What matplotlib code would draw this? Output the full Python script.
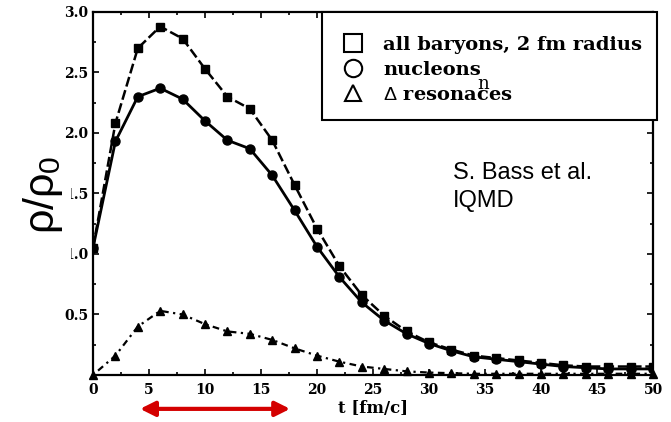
import numpy as np
import matplotlib
matplotlib.use('Agg')
import matplotlib.pyplot as plt
from matplotlib.lines import Line2D
from matplotlib.patches import Rectangle

plt.rcParams['mathtext.fontset'] = 'custom'
plt.rcParams['mathtext.rm'] = 'Liberation Sans'
plt.rcParams['mathtext.it'] = 'Liberation Sans'

t = [0, 2, 4, 6, 8, 10, 12, 14, 16, 18, 20, 22, 24, 26, 28, 30,
     32, 34, 36, 38, 40, 42, 44, 46, 48, 50]
all_baryons = [1.05, 2.08, 2.70, 2.88, 2.78, 2.53, 2.30, 2.20, 1.94, 1.57, 1.21, 0.90, 0.66,
               0.49, 0.36, 0.27, 0.21, 0.16, 0.14, 0.12, 0.10, 0.08, 0.07, 0.07, 0.07, 0.07]
nucleons = [1.05, 1.93, 2.30, 2.37, 2.28, 2.10, 1.94, 1.87, 1.65, 1.36, 1.06, 0.81, 0.60,
            0.45, 0.34, 0.26, 0.20, 0.15, 0.13, 0.11, 0.09, 0.07, 0.06, 0.05, 0.05, 0.05]
delta = [0.0, 0.16, 0.40, 0.53, 0.50, 0.42, 0.36, 0.34, 0.29, 0.22, 0.16, 0.11, 0.07,
         0.05, 0.03, 0.02, 0.015, 0.01, 0.01, 0.01, 0.01, 0.01, 0.01, 0.01, 0.01, 0.01]

labels = ['all baryons, 2 fm radius', 'nucleons', r'$\Delta$ resonaces']
xticks = [0, 5, 10, 15, 20, 25, 30, 35, 40, 45, 50]
yticks = [0.5, 1.0, 1.5, 2.0, 2.5, 3.0]

serif = 'DejaVu Serif'

fig = plt.figure(figsize=(6.71, 4.22), dpi=100)
ax = fig.add_axes([0.1386, 0.1114, 0.8346, 0.8602])

ax.plot(t, all_baryons, color='black', lw=1.8, ls=(0, (4, 1.5)),
        marker='s', ms=6, mfc='black', mec='black', zorder=3)
ax.plot(t, nucleons, color='black', lw=2.0, ls='-',
        marker='o', ms=6.5, mfc='black', mec='black', zorder=3)
ax.plot(t, delta, color='black', lw=1.6, ls=(0, (1, 2, 3, 2)),
        marker='^', ms=5.5, mfc='black', mec='black', zorder=3, clip_on=False)

ax.set_xlim(0, 50)
ax.set_ylim(0, 3.0)
ax.set_xticks(xticks)
ax.set_xticks(np.arange(0, 50.1, 2.5), minor=True)
ax.set_yticks(yticks)
ax.set_yticks(np.arange(0, 3.01, 0.25), minor=True)
ax.tick_params(which='both', direction='in', top=True, right=True, width=1.2)
ax.tick_params(which='major', length=4)
ax.tick_params(which='minor', length=2.5)
ax.tick_params(axis='x', pad=6)
for lab in ax.get_xticklabels() + ax.get_yticklabels():
    lab.set_fontfamily(serif)
    lab.set_fontweight('bold')
    lab.set_fontsize(10)
for s in ax.spines.values():
    s.set_linewidth(1.6)

ax.set_xlabel('t [fm/c]', fontfamily=serif, fontweight='bold', fontsize=12, labelpad=2)

# the big y label was pasted over the tick labels: a white patch hides the "1" of 1.5 and 1.0
fig.patches.append(Rectangle((14 / 671, 1 - 268 / 422), 57 / 671, 120 / 422,
                             transform=fig.transFigure, facecolor='white', edgecolor='none',
                             zorder=4))
fig.text(0.064, 0.538, r'$\rho/\rho_0$', rotation=90, fontsize=31, ha='center', va='center',
         zorder=5)

# legend box drawn separately so the padding can match the scan
ax.add_patch(Rectangle((0.409, 0.7025), 0.598, 0.2975, transform=ax.transAxes,
                       facecolor='white', edgecolor='black', lw=1.5, zorder=4, clip_on=False))
handles = [Line2D([], [], ls='none', marker='s', ms=12.5, mfc='white', mec='black', mew=1.5),
           Line2D([], [], ls='none', marker='o', ms=12.5, mfc='white', mec='black', mew=1.5),
           Line2D([], [], ls='none', marker='^', ms=12, mfc='white', mec='black', mew=1.5)]
leg = ax.legend(handles, labels, loc='upper left', bbox_to_anchor=(0.4304, 0.935),
                prop={'family': serif, 'weight': 'bold', 'size': 14},
                frameon=False, borderpad=0, labelspacing=0.36, handlelength=2.0,
                handletextpad=0.52, borderaxespad=0)
leg.set_zorder(5)

ax.text(0.686, 0.787, 'n', transform=ax.transAxes, fontfamily=serif, fontsize=13, zorder=6)

ax.text(32.1, 1.55, 'S. Bass et al.\nIQMD', fontfamily='Liberation Sans', fontsize=17,
        va='center', ha='left', linespacing=1.35)

ax.annotate('', xy=(4.2, -0.28), xytext=(17.6, -0.28), xycoords='data',
            arrowprops=dict(arrowstyle='<|-|>', color='#d40000', lw=3, mutation_scale=22,
                            shrinkA=0, shrinkB=0), annotation_clip=False)

fig.savefig('out.png', dpi=100)
